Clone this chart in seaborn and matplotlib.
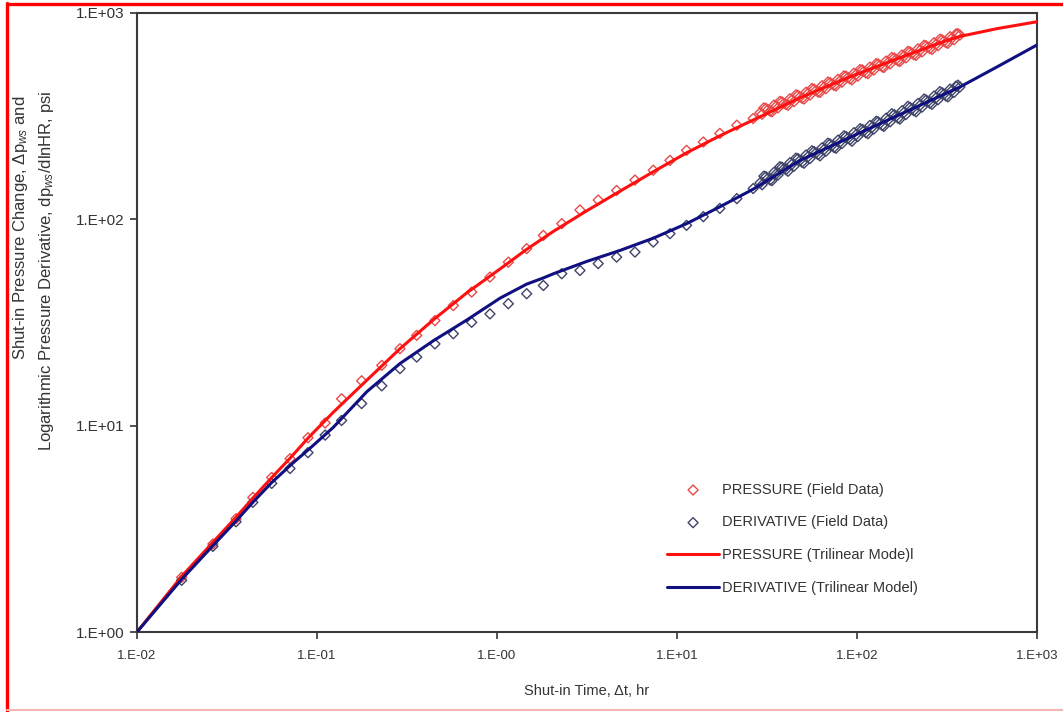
import matplotlib
matplotlib.use("Agg")
import matplotlib.pyplot as plt
from matplotlib.lines import Line2D
import seaborn as sns

# ---------------- data ----------------
x_ticks = [1e-2, 1e-1, 1e0, 1e1, 1e2, 1e3]
x_tick_labels = ["1.E-02", "1.E-01", "1.E-00", "1.E+01", "1.E+02", "1.E+03"]
y_ticks = [1e0, 1e1, 1e2, 1e3]
y_tick_labels = ["1.E+00", "1.E+01", "1.E+02", "1.E+03"]

# field data (shut-in time, hr) - early / mid times
field_time = [0.0177, 0.0264, 0.0355, 0.044, 0.056, 0.0708, 0.0891, 0.111, 0.137, 0.177,
              0.229, 0.289, 0.358, 0.452, 0.572, 0.723, 0.914, 1.156, 1.462, 1.81,
              2.29, 2.89, 3.65, 4.62, 5.84, 7.38, 9.14, 11.3, 14.0, 17.3, 21.5, 26.5,
              28.9, 30.4, 32.0, 33.7, 35.5, 37.3, 39.3, 41.4, 43.5, 45.8, 48.2, 50.8,
              53.4, 56.2, 59.2, 62.3, 65.6, 69.0, 72.6, 76.4, 80.5, 84.7, 89.1, 93.8,
              98.7, 104, 109, 115, 121, 128, 134, 141, 149, 156, 165, 173, 182, 192,
              202, 213, 224, 236, 248, 261, 275, 289, 304, 320, 337, 355, 373]
field_pressure = [1.84, 2.67, 3.54, 4.49, 5.61, 6.92, 8.74, 10.3, 13.5, 16.5,
                  19.6, 23.6, 27.4, 32.3, 38.2, 44.4, 52.5, 62.0, 72.1, 83.6,
                  95.3, 111, 124, 138, 155, 173, 193, 216, 237, 261, 286, 308,
                  328, 347, 340, 332, 353, 373, 365, 357, 379, 401, 392, 383,
                  407, 431, 421, 412, 437, 463, 453, 443, 469, 496, 486, 474,
                  503, 532, 521, 508, 538, 569, 557, 544, 576, 609, 596, 582,
                  617, 652, 638, 623, 660, 698, 683, 666, 706, 747, 730, 713,
                  756, 792, 782]
field_derivative = [1.78, 2.60, 3.42, 4.25, 5.25, 6.20, 7.40, 9.0, 10.6, 12.8,
                    15.6, 18.9, 21.5, 24.9, 27.9, 31.7, 34.8, 39.0, 43.6, 47.8,
                    54.5, 56.5, 61.0, 65.6, 69.4, 77.6, 85.2, 93.5, 103, 113, 126, 141,
                    150, 162, 158, 154, 166, 180, 176, 171, 185, 198, 193, 187,
                    201, 215, 210, 203, 218, 234, 228, 221, 237, 254, 247, 239,
                    257, 275, 268, 260, 279, 299, 291, 282, 303, 325, 316, 306,
                    329, 353, 343, 332, 357, 383, 372, 361, 388, 416, 404, 392,
                    421, 442, 438]
# field data - additional late-time readings (dense band)
field_time_late = [29.7, 31.2, 32.9, 34.6, 36.4, 38.3, 40.3, 42.4, 44.7, 47.0,
                   49.5, 52.1, 54.8, 57.7, 60.7, 63.9, 67.3, 70.8, 74.5, 78.4,
                   82.5, 86.9, 91.4, 96.2, 101, 107, 112, 118, 124, 131,
                   138, 145, 153, 161, 169, 178, 187, 197, 207, 218,
                   230, 242, 254, 268, 282, 297, 312, 329, 346, 364]
field_pressure_late = [323, 345, 334, 358, 347, 371, 360, 384, 372, 399,
                       386, 413, 400, 428, 414, 444, 430, 460, 446, 477,
                       462, 494, 479, 511, 494, 530, 512, 547, 529, 566,
                       548, 585, 567, 606, 586, 626, 606, 648, 627, 670,
                       648, 694, 672, 718, 694, 742, 718, 768, 742, 794]
field_derivative_late = [147, 161, 155, 169, 164, 179, 174, 188, 181, 197,
                         189, 205, 197, 213, 206, 222, 214, 232, 223, 242,
                         233, 252, 243, 263, 252, 273, 263, 285, 274, 297,
                         285, 309, 297, 322, 309, 336, 322, 349, 336, 364,
                         350, 379, 365, 396, 380, 411, 396, 428, 412, 447]

# trilinear model curves
model_p_time = [0.01, 0.0177, 0.0264, 0.0355, 0.044, 0.056, 0.0708, 0.0891, 0.123, 0.189,
                0.289, 0.443, 0.679, 1.04, 1.46, 2.06, 3.15, 4.83, 7.38, 11.3,
                17.3, 26.5, 48.2, 89.1, 165, 304, 373, 600, 1000]
model_pressure = [1.0, 1.86, 2.72, 3.60, 4.45, 5.6, 6.95, 8.7, 11.6, 16.6,
                  23.6, 32.6, 44.0, 57.5, 71.5, 87.5, 110, 137, 170, 210,
                  254, 303, 388, 486, 598, 728, 770, 840, 907]
model_d_time = [0.01, 0.0177, 0.0264, 0.0355, 0.044, 0.056, 0.0736, 0.0934, 0.123, 0.189,
                0.289, 0.443, 0.679, 1.04, 1.46, 1.81, 2.06, 3.15, 4.83, 7.38,
                11.3, 17.3, 26.5, 48.2, 89.1, 165, 373, 623, 1000]
model_derivative = [1.0, 1.80, 2.62, 3.45, 4.25, 5.3, 6.6, 7.9, 9.8, 14.6,
                    20.0, 25.8, 32.5, 41.5, 48.5, 52.0, 54.5, 62.5, 70.7, 81.0,
                    95.3, 115, 140, 193, 247, 316, 438, 558, 700]

labels = ["PRESSURE (Field Data)", "DERIVATIVE (Field Data)",
          "PRESSURE (Trilinear Mode)l", "DERIVATIVE (Trilinear Model)"]

# ---------------- style ----------------
sns.set_theme(style="white")
plt.rcParams["font.family"] = ["Liberation Sans", "DejaVu Sans"]
plt.rcParams["mathtext.fontset"] = "custom"
plt.rcParams["mathtext.rm"] = "Liberation Sans"
plt.rcParams["mathtext.it"] = "Liberation Sans:italic"

fig = plt.figure(figsize=(10.63, 7.12), dpi=100)
ax = fig.add_axes([137 / 1063, 1 - 632 / 712, 900 / 1063, 619 / 712])

red = "#ff1010"
navy = "#101080"
p_marker = "#e84a4a"
d_marker = "#404468"

all_time = field_time + field_time_late
all_pressure = field_pressure + field_pressure_late
all_derivative = field_derivative + field_derivative_late

sns.scatterplot(x=all_time, y=all_pressure, ax=ax, marker="D", s=26,
                facecolors="none", edgecolors=p_marker, linewidth=1.0,
                label=labels[0], zorder=3)
sns.scatterplot(x=all_time, y=all_derivative, ax=ax, marker="D", s=26,
                facecolors="none", edgecolors=d_marker, linewidth=1.0,
                label=labels[1], zorder=3)
sns.lineplot(x=model_p_time, y=model_pressure, ax=ax, color=red, lw=2.2,
             label=labels[2], sort=False, estimator=None, zorder=4)
sns.lineplot(x=model_d_time, y=model_derivative, ax=ax, color=navy, lw=2.2,
             label=labels[3], sort=False, estimator=None, zorder=4)

ax.set_xscale("log")
ax.set_yscale("log")
ax.set_xlim(1e-2, 1e3)
ax.set_ylim(1e0, 1e3)
ax.set_xticks(x_ticks)
ax.set_xticklabels(x_tick_labels, fontsize=9.5, color="#333333")
ax.set_yticks(y_ticks)
ax.set_yticklabels(y_tick_labels, fontsize=11, color="#333333")
ax.minorticks_off()
ax.tick_params(axis="both", which="major", direction="out", length=5, width=1.2,
               color="#333333", left=True, bottom=True, pad=4)
ax.tick_params(axis="x", pad=8)
for sp in ax.spines.values():
    sp.set_visible(True)
    sp.set_color("#3a3a3a")
    sp.set_linewidth(1.5)
ax.grid(False)

ax.set_xlabel("Shut-in Time, Δt, hr", fontsize=10.5, color="#333333", labelpad=16)
ax.set_ylabel("")

fig.text(21 / 1063, 1 - 228 / 712, "Shut-in Pressure Change, Δp$_{ws}$ and",
         rotation=90, ha="center", va="center", fontsize=12, color="#333333")
fig.text(47 / 1063, 1 - 271 / 712, "Logarithmic Pressure Derivative, dp$_{ws}$/dlnHR, psi",
         rotation=90, ha="center", va="center", fontsize=12, color="#333333")

leg = ax.legend(loc="upper left", bbox_to_anchor=((661 - 137) / 900, (632 - 477) / 619),
                frameon=False, fontsize=10.5, labelspacing=1.28, handlelength=3.6,
                handletextpad=0.15, borderaxespad=0)
for t in leg.get_texts():
    t.set_color("#333333")

# red frame around the figure
fig.add_artist(Line2D([0.0066, 0.0066], [0.0, 0.996], transform=fig.transFigure,
                      color="#ff0000", lw=2.4))
fig.add_artist(Line2D([0.0066, 1.0], [0.9945, 0.9945], transform=fig.transFigure,
                      color="#ff0000", lw=2.4))
fig.add_artist(Line2D([0.0066, 1.0], [0.003, 0.003], transform=fig.transFigure,
                      color="#f5b5b5", lw=1.5))

fig.savefig("out.png", dpi=100)
